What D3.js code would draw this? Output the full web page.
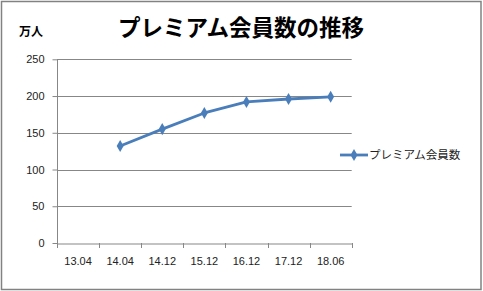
<!DOCTYPE html>
<html><head><meta charset="utf-8">
<script src="https://cdn.jsdelivr.net/npm/d3@7"></script>
<style>body{margin:0;background:#fff}svg{display:block}</style>
</head><body>
<script>
const categories = ["13.04","14.04","14.12","15.12","16.12","17.12","18.06"];
const members = [null,132,155,177,192,196,199];
const yTicks = [0,50,100,150,200,250];
const title = "プレミアム会員数の推移";
const unitLabel = "万人";
const seriesName = "プレミアム会員数";

const W=483,H=291;
const svg=d3.select("body").append("svg").attr("width",W).attr("height",H);
svg.append("rect").attr("x",1.5).attr("y",1.5).attr("width",479.5).attr("height",288).attr("fill","#fff").attr("stroke","#828282").attr("stroke-width",1.5);

const x=d3.scaleBand().domain(categories).range([57,351.7]);
const y=d3.scaleLinear().domain([0,250]).range([243,59.3]);
const font="'Liberation Sans', Arial, sans-serif";
const cjk="'Noto Sans CJK JP', sans-serif";

// gridlines
svg.append("g").selectAll("line").data(yTicks.filter(d=>d>0)).join("line")
 .attr("x1",57).attr("x2",351.7).attr("y1",d=>Math.round(y(d))+0.5).attr("y2",d=>Math.round(y(d))+0.5)
 .attr("stroke","#878787").attr("stroke-width",1);

// y axis
const ya=svg.append("g").attr("transform","translate(57.5,0)")
 .call(d3.axisLeft(y).tickValues(yTicks).tickSize(5).tickPadding(8));
ya.select(".domain").attr("stroke","#878787").attr("d","M0,"+y(250)+"V"+y(0));
ya.selectAll(".tick line").attr("stroke","#878787");
ya.selectAll("text").attr("font-family",font).attr("font-size",11).attr("fill","#222");

// x axis
const xa=svg.append("g").attr("transform","translate(0,243.5)")
 .call(d3.axisBottom(x).tickSize(0).tickPadding(14));
xa.select(".domain").attr("stroke","#878787");
xa.selectAll("text").attr("font-family",font).attr("font-size",11).attr("fill","#222");
const edges=categories.map(c=>x(c)).concat([x(categories[categories.length-1])+x.bandwidth()]);
svg.append("g").selectAll("line").data(edges).join("line")
 .attr("x1",d=>Math.round(d)+0.5).attr("x2",d=>Math.round(d)+0.5).attr("y1",243).attr("y2",248)
 .attr("stroke","#878787");

// line
const pts=categories.map((c,i)=>({c,v:members[i]})).filter(d=>d.v!=null);
const cx=d=>x(d.c)+x.bandwidth()/2;
svg.append("path").datum(pts).attr("fill","none").attr("stroke","#4a7ebb").attr("stroke-width",2.8)
 .attr("stroke-linejoin","round")
 .attr("d",d3.line().x(cx).y(d=>y(d.v)));
const diamond=d3.symbol().type(d3.symbolDiamond).size(42);
svg.append("g").selectAll("path").data(pts).join("path")
 .attr("transform",d=>`translate(${cx(d)},${y(d.v)})`).attr("d",diamond).attr("fill","#4a7ebb");

// legend
const ly=155;
svg.append("line").attr("x1",340).attr("x2",368).attr("y1",ly).attr("y2",ly).attr("stroke","#4a7ebb").attr("stroke-width",2.8);
svg.append("path").attr("transform",`translate(354,${ly})`).attr("d",diamond).attr("fill","#4a7ebb");
svg.append("text").attr("x",369).attr("y",ly+4).attr("font-family",cjk).attr("font-size",11.5).attr("fill","#222").text(seriesName);

// title
svg.append("text").attr("x",241).attr("y",36).attr("text-anchor","middle").attr("font-family",cjk).attr("font-weight","bold").attr("font-size",22.5).attr("fill","#000").text(title);
svg.append("text").attr("x",19).attr("y",36).attr("font-family",cjk).attr("font-weight","bold").attr("font-size",12).attr("fill","#000").text(unitLabel);
</script>
</body></html>
